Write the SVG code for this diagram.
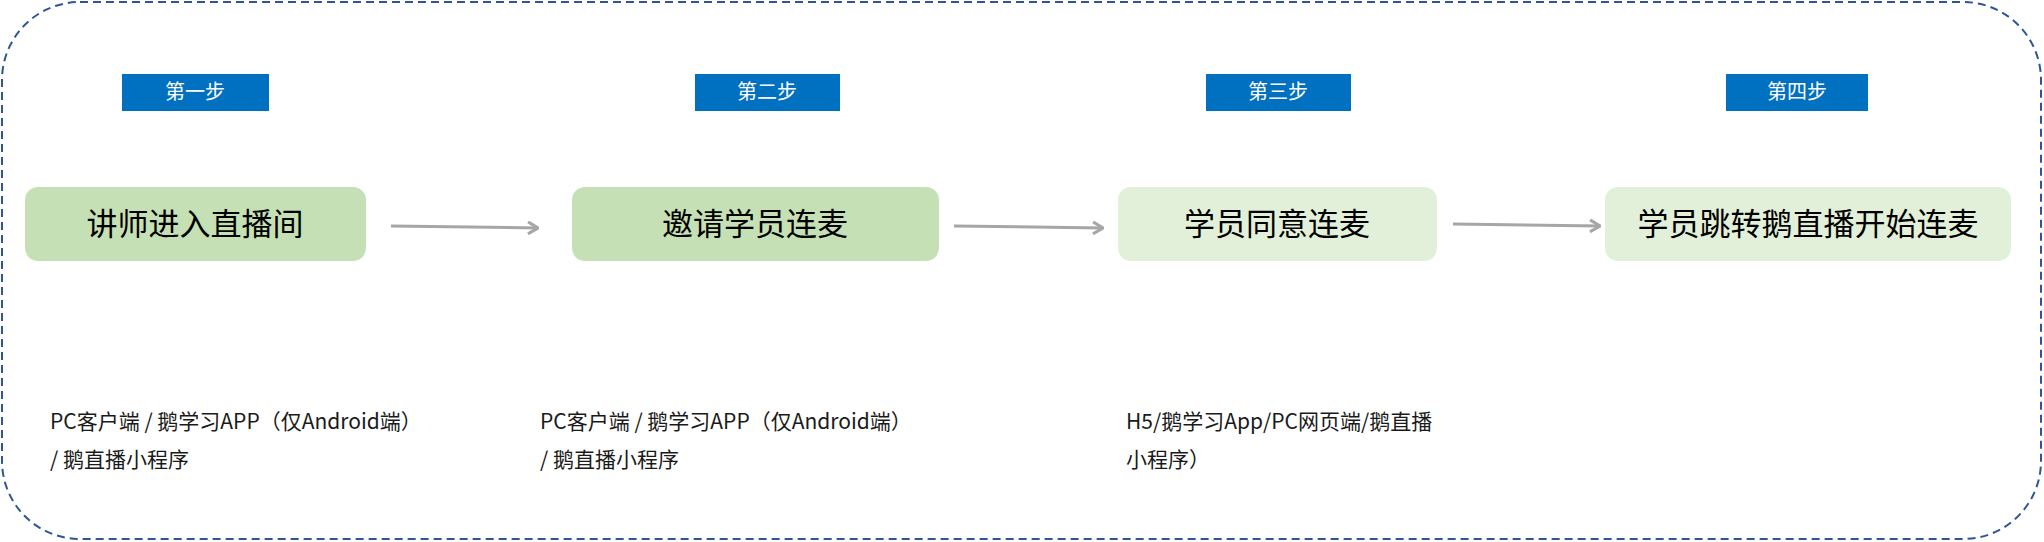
<svg xmlns="http://www.w3.org/2000/svg" width="2044" height="542" viewBox="0 0 2044 542">
<style>
text{font-family:"Noto Sans CJK SC","Noto Sans",sans-serif}
.lb{fill:#0070c0}
.lt{fill:#fff;font-size:20px;text-anchor:middle}
.nt{fill:#000;font-size:31px;text-anchor:middle}
.d{fill:#1a1a1a;font-size:21px}
.c{stroke:#a6a6a6;stroke-width:3;fill:none;marker-end:url(#ah)}
</style>
<defs><marker id="ah" markerWidth="12" markerHeight="14" refX="11" refY="7" orient="auto" markerUnits="userSpaceOnUse"><path d="M1,1 L11,7 L1,13" fill="none" stroke="#a6a6a6" stroke-width="3"/></marker></defs>
<rect x="2" y="2" width="2039" height="537" rx="78" fill="#fff" stroke="#2f5597" stroke-width="2" stroke-dasharray="8,5"/>
<g id="s1"><rect class="lb" x="122" y="74" width="147" height="37"/><text class="lt" x="195" y="99">第一步</text></g>
<g id="s2"><rect class="lb" x="695" y="74" width="145" height="37"/><text class="lt" x="767" y="99">第二步</text></g>
<g id="s3"><rect class="lb" x="1206" y="74" width="145" height="37"/><text class="lt" x="1278" y="99">第三步</text></g>
<g id="s4"><rect class="lb" x="1726" y="74" width="142" height="37"/><text class="lt" x="1797" y="99">第四步</text></g>
<g id="n1"><rect x="25" y="187" width="341" height="74" rx="13" fill="#c5e0b4"/><text class="nt" x="195" y="235">讲师进入直播间</text></g>
<g id="n2"><rect x="572" y="187" width="367" height="74" rx="13" fill="#c5e0b4"/><text class="nt" x="755" y="235">邀请学员连麦</text></g>
<g id="n3"><rect x="1118" y="187" width="319" height="74" rx="13" fill="#e2f0d9"/><text class="nt" x="1277" y="235">学员同意连麦</text></g>
<g id="n4"><rect x="1605" y="187" width="406" height="74" rx="13" fill="#e2f0d9"/><text class="nt" x="1808" y="235">学员跳转鹅直播开始连麦</text></g>
<g id="connectors">
<line class="c" x1="391" y1="226" x2="538" y2="228"/>
<line class="c" x1="954" y1="226" x2="1103" y2="228"/>
<line class="c" x1="1453" y1="224" x2="1600" y2="226"/>
</g>
<g id="t1"><text class="d" x="50" y="429">PC客户端 / 鹅学习APP（仅Android端）</text><text class="d" x="50" y="467">/ 鹅直播小程序</text></g>
<g id="t2"><text class="d" x="540" y="429">PC客户端 / 鹅学习APP（仅Android端）</text><text class="d" x="540" y="467">/ 鹅直播小程序</text></g>
<g id="t3"><text class="d" x="1126" y="429">H5/鹅学习App/PC网页端/鹅直播</text><text class="d" x="1126" y="467">小程序）</text></g>
</svg>
